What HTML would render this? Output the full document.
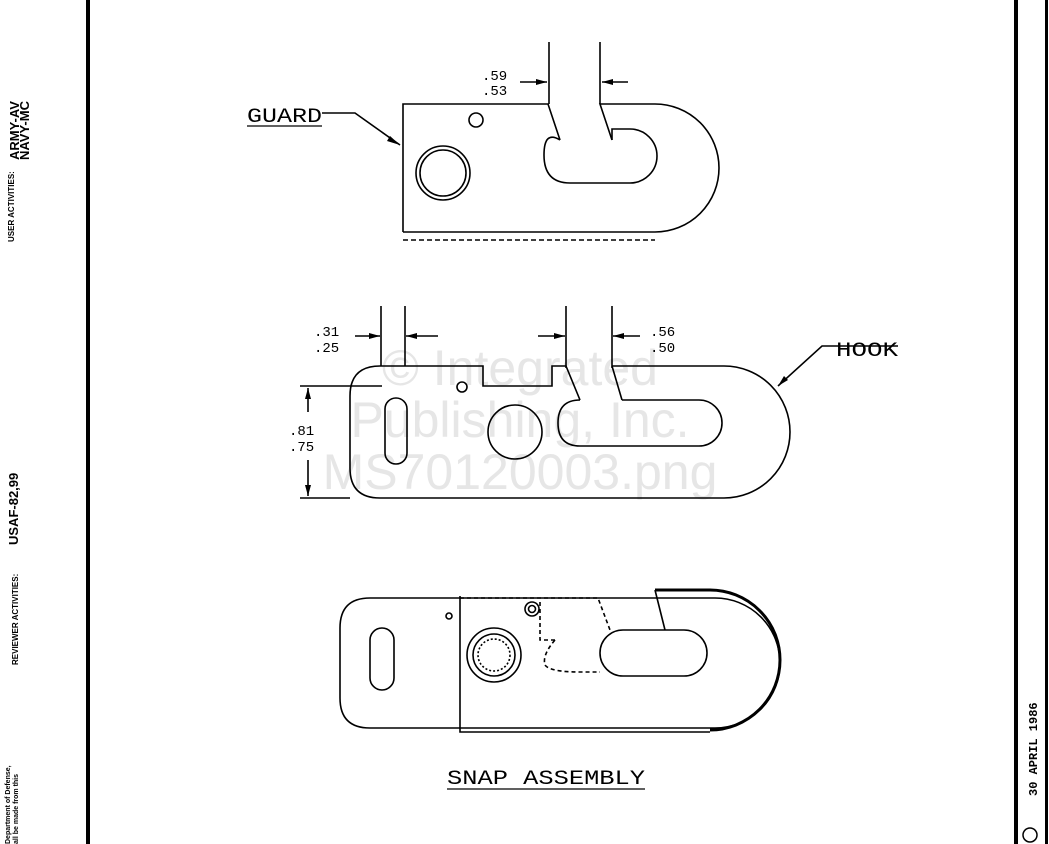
<!DOCTYPE html>
<html><head><style>
html,body{margin:0;padding:0;background:#fff;}
svg{display:block}
.m{font-family:"Liberation Mono",monospace;fill:#000}
.s{font-family:"Liberation Sans",sans-serif;fill:#000;font-weight:bold}
.w{font-family:"Liberation Sans",sans-serif;fill:#e6e6e6}
</style></head><body>
<svg width="1049" height="844" viewBox="0 0 1049 844" xmlns="http://www.w3.org/2000/svg">
<rect width="1049" height="844" fill="#fff"/>
<rect x="86" y="0" width="4" height="844" fill="#000"/>
<rect x="1014" y="0" width="4" height="844" fill="#000"/>
<rect x="1045" y="0" width="3" height="844" fill="#000"/>
<text class="s" transform="translate(14,242) rotate(-90)" font-size="8">USER ACTIVITIES:</text>
<text class="s" transform="translate(19,160) rotate(-90)" font-size="13">ARMY-AV</text>
<text class="s" transform="translate(29,160) rotate(-90)" font-size="13">NAVY-MC</text>
<text class="s" transform="translate(18,665) rotate(-90)" font-size="8">REVIEWER ACTIVITIES:</text>
<text class="s" transform="translate(18,545) rotate(-90)" font-size="13">USAF-82,99</text>
<text class="s" transform="translate(10,844) rotate(-90)" font-size="7">Department of Defense,</text>
<text class="s" transform="translate(18,844) rotate(-90)" font-size="7">all be made from this</text>
<text class="m" transform="translate(1037,796) rotate(-90)" font-size="12" font-weight="bold">30 APRIL 1986</text>
<circle cx="1030" cy="835" r="7" fill="none" stroke="#000" stroke-width="1.5"/>

<g font-size="50" text-anchor="middle">
<text class="w" x="520" y="385">© Integrated</text>
<text class="w" x="520" y="437">Publishing, Inc.</text>
<text class="w" x="520" y="489">MS70120003.png</text>
</g>

<g fill="none" stroke="#000" stroke-width="1.6">
<line x1="549" y1="42" x2="549" y2="104"/>
<line x1="600" y1="42" x2="600" y2="104"/>
<path d="M403,232 L403,104 L548,104 L560,140"/>
<path d="M612,140 L600,104 L655,104 A64,64 0 0 1 655,232 L403,232"/>
<line x1="403" y1="240" x2="655" y2="240" stroke-dasharray="5,3"/>
<path d="M560,140 Q544,130 544,155 Q544,183 570,183 L630,183 A27,27 0 0 0 630,129 L612,129 L612,140"/>
<circle cx="443" cy="173" r="27"/>
<circle cx="443" cy="173" r="23"/>
<circle cx="476" cy="120" r="7"/>
<line x1="520" y1="82" x2="547" y2="82"/>
<line x1="602" y1="82" x2="628" y2="82"/>
<polyline points="322,113 355,113 400,145"/>

<line x1="566" y1="306" x2="566" y2="368"/>
<line x1="612" y1="306" x2="612" y2="368"/>
<line x1="381" y1="306" x2="381" y2="366"/>
<line x1="405" y1="306" x2="405" y2="366"/>
<path d="M380,366 L483,366 L483,386 L552,386 L552,366 L566,366 L580,400 M612,366 L724,366 A66,66 0 0 1 724,498 L380,498 Q350,498 350,468 L350,396 Q350,366 380,366"/>
<path d="M612,366 L622,400"/>
<path d="M580,400 Q558,400 558,423 Q558,446 580,446 L699,446 A23,23 0 0 0 699,400 L622,400"/>
<rect x="385" y="398" width="22" height="66" rx="11"/>
<circle cx="515" cy="432" r="27"/>
<circle cx="462" cy="387" r="5"/>
<line x1="300" y1="386" x2="382" y2="386"/>
<line x1="300" y1="498" x2="350" y2="498"/>
<line x1="355" y1="336" x2="380" y2="336"/>
<line x1="406" y1="336" x2="438" y2="336"/>
<line x1="538" y1="336" x2="565" y2="336"/>
<line x1="613" y1="336" x2="640" y2="336"/>
<line x1="308" y1="388" x2="308" y2="412"/>
<line x1="308" y1="460" x2="308" y2="496"/>
<polyline points="898,346 822,346 778,386"/>

<path d="M370,598 L715,598 A65,65 0 0 1 715,728 L370,728 Q340,728 340,698 L340,628 Q340,598 370,598 Z"/>
<rect x="370" y="628" width="24" height="62" rx="12"/>
<rect x="600" y="630" width="107" height="46" rx="23"/>
<path d="M460,596 L460,732 L710,732"/>
<path d="M655,590 L710,590 A70,70 0 0 1 710,730" stroke-width="3"/>
<line x1="655" y1="590" x2="665" y2="630"/>
<path d="M460,598 L598,598 L610,630" stroke-dasharray="4,3"/>
<path d="M555,640 L540,640 L540,600 M555,640 Q542,655 545,665 Q550,672 580,672 L600,672" stroke-dasharray="4,3"/>
<circle cx="494" cy="655" r="27"/>
<circle cx="494" cy="655" r="21"/>
<circle cx="494" cy="655" r="16" stroke-dasharray="2,2"/>
<circle cx="532" cy="609" r="7"/>
<circle cx="532" cy="609" r="3.5"/>
<circle cx="449" cy="616" r="3"/>
</g>
<g fill="#000">
<polygon points="547,82 536,79 536,85"/>
<polygon points="602,82 613,79 613,85"/>
<polygon points="400,145 390,136 387,141"/>
<polygon points="380,336 369,333 369,339"/>
<polygon points="406,336 417,333 417,339"/>
<polygon points="565,336 554,333 554,339"/>
<polygon points="613,336 624,333 624,339"/>
<polygon points="308,388 305,399 311,399"/>
<polygon points="308,496 305,485 311,485"/>
<polygon points="778,386 784,376 788,380"/>
</g>
<g font-size="14">
<text class="m" x="482" y="80">.59</text>
<text class="m" x="482" y="95">.53</text>
<text class="m" x="247" y="122" font-size="20" textLength="75" lengthAdjust="spacingAndGlyphs">GUARD</text>
<line x1="247" y1="126" x2="322" y2="126" stroke="#000" stroke-width="1.3"/>
<text class="m" x="314" y="336">.31</text>
<text class="m" x="314" y="352">.25</text>
<text class="m" x="650" y="336">.56</text>
<text class="m" x="650" y="352">.50</text>
<text class="m" x="289" y="435">.81</text>
<text class="m" x="289" y="451">.75</text>
<text class="m" x="836" y="356" font-size="20" textLength="62" lengthAdjust="spacingAndGlyphs">HOOK</text>
<text class="m" x="447" y="784" font-size="20" textLength="198" lengthAdjust="spacingAndGlyphs">SNAP ASSEMBLY</text>
<line x1="447" y1="789" x2="645" y2="789" stroke="#000" stroke-width="1.3"/>
</g>
</svg>
</body></html>
